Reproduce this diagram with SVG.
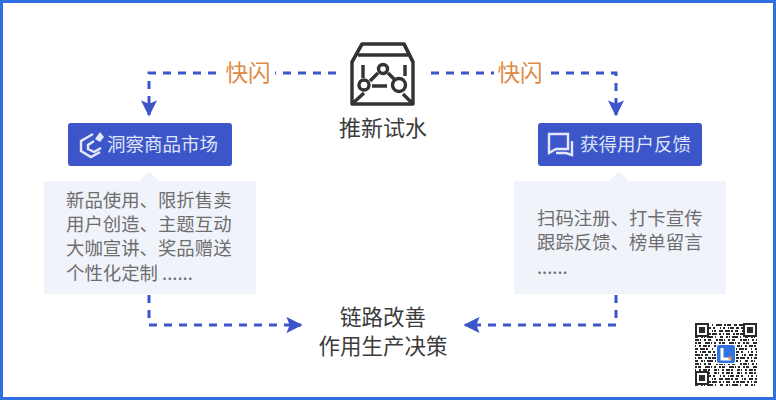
<svg xmlns="http://www.w3.org/2000/svg" width="776" height="400" viewBox="0 0 776 400">
<style>
text{font-family:"Noto Sans CJK SC","Noto Sans",sans-serif}
.t{font-size:22px;fill:#3c3c3c;text-anchor:middle}
.b{font-size:18.4px;fill:#6e6e6e}
.h{font-size:18.5px;fill:#dfe5f8}
.k{font-size:22.5px;fill:#e08a45;text-anchor:middle}
.d{fill:none;stroke:#3c55c8;stroke-width:3;stroke-dasharray:8 7}
.box{fill:#3c55c8}
.card{fill:#f1f3fb}
.ic{fill:none;stroke:#e4e8f8;stroke-width:2.4}
.bx{fill:none;stroke:#333;stroke-width:3.4;stroke-linejoin:round}
.q{stroke:#2a2a2a;stroke-width:2;fill:none}
</style>
<defs>
<marker id="a" viewBox="0 0 10 10" refX="9" refY="5" markerWidth="5.400" markerHeight="5.400" orient="auto"><path d="M0 0L10 5L0 10L2 5Z" fill="#3c55c8"/></marker>
</defs>
<rect x="1.500" y="1.500" width="773" height="397" fill="#fff" stroke="#2f6fe0" stroke-width="3"/>
<g id="connectors">
<path class="d" d="M336 73H149V115" marker-end="url(#a)"/>
<path class="d" d="M431 73H616V115" marker-end="url(#a)"/>
<path class="d" d="M149 295V325H301" marker-end="url(#a)"/>
<path class="d" d="M616 295V325H465" marker-end="url(#a)"/>
</g>
<g id="label-left"><rect x="221" y="60" width="54" height="26" fill="#fff"/><text class="k" x="248" y="81">快闪</text></g>
<g id="label-right"><rect x="494" y="60" width="54" height="26" fill="#fff"/><text class="k" x="520" y="81">快闪</text></g>
<g id="node-top">
<path class="bx" d="M352 62L362 44H404L413 62V104H352Z"/>
<path class="bx" d="M352 62L362 44M413 62L404 44M358 55H408M352 104L364 93M413 104L403 94" stroke-width="2.400"/>
<path class="bx" d="M363 65V78M405 65V76M370 81L378 73M388 73L394 79M372 86H387" stroke-width="2.400"/>
<circle class="bx" cx="364" cy="85" r="5"/><circle class="bx" cx="383" cy="69" r="4.500"/><circle class="bx" cx="399" cy="85" r="6.500"/>
<text class="t" x="383" y="136">推新试水</text>
</g>
<g id="node-left">
<rect class="box" x="68" y="123" width="164" height="43" rx="3"/>
<path class="ic" d="M93 134L81 141V151L91 157L100 152M94 141L88 145V149L94 152L101 148"/>
<path d="M95 139L100 132L104 137L100 142Z" fill="#e4e8f8"/>
<text class="h" x="107" y="151">洞察商品市场</text>
</g>
<g id="card-left">
<path class="card" d="M44 181H139L149 171L159 181H256V294H44Z"/>
<text class="b"><tspan x="66" y="207">新品使用、限折售卖</tspan><tspan x="66" y="231">用户创造、主题互动</tspan><tspan x="66" y="255">大咖宣讲、奖品赠送</tspan><tspan x="66" y="280">个性化定制 ......</tspan></text>
</g>
<g id="node-right">
<rect class="box" x="538" y="123" width="164" height="43" rx="3"/>
<path class="ic" d="M549 134H568V149H556L549 153Z" stroke-width="2.800"/>
<path class="ic" d="M572 141V155L566 153H556"/>
<text class="h" x="580" y="151">获得用户反馈</text>
</g>
<g id="card-right">
<path class="card" d="M514 181H609L619 171L629 181H726V294H514Z"/>
<text class="b"><tspan x="537" y="225">扫码注册、打卡宣传</tspan><tspan x="537" y="249">跟踪反馈、榜单留言</tspan><tspan x="537" y="274">......</tspan></text>
</g>
<g id="node-bottom">
<text class="t" style="font-size:21.5px"><tspan x="383" y="325">链路改善</tspan><tspan x="383" y="354">作用生产决策</tspan></text>
</g>
<g id="qr">
<rect x="693" y="322" width="66" height="65" fill="#fff"/>
<g class="q">
<path stroke-dasharray="3 2 5 1 2 4 1 3 6 2 2 1 4 3" d="M695 325H757M695 349H757"/>
<path stroke-dasharray="2 3 1 1 4 2 3 2 2 5 1 2" d="M695 328H757M695 352H757M695 376H757"/>
<path stroke-dasharray="5 1 2 2 3 4 1 1 2 3 4 2" d="M695 331H757M695 355H757M695 379H757"/>
<path stroke-dasharray="1 2 4 3 2 1 3 1 5 2 2 2" d="M695 334H757M695 358H757M695 382H757"/>
<path stroke-dasharray="3 3 2 1 1 2 6 2 1 4" d="M695 337H757M695 361H757M695 385H757"/>
<path stroke-dasharray="4 1 1 3 2 2 3 5 2 1" d="M695 340H757M695 364H757"/>
<path stroke-dasharray="2 1 3 4 5 1 1 2 2 3" d="M695 343H757M695 367H757"/>
<path stroke-dasharray="1 3 2 2 4 1 2 4 3 1" d="M695 346H757M695 370H757M695 373H757"/>
</g>
<g fill="#fff" stroke="#2a2a2a" stroke-width="2">
<rect x="696" y="324" width="12" height="12"/><rect x="744" y="324" width="12" height="12"/><rect x="696" y="372" width="12" height="12"/>
</g>
<g fill="#2a2a2a"><rect x="699" y="327" width="6" height="6"/><rect x="747" y="327" width="6" height="6"/><rect x="699" y="375" width="6" height="6"/></g>
<rect x="716" y="344" width="20" height="20" fill="#fff"/>
<rect x="717" y="345" width="18" height="18" rx="2" fill="#2f72e0"/>
<path d="M722 348V359H731" fill="none" stroke="#fff" stroke-width="3"/>
<circle cx="730" cy="358" r="1.800" fill="#e9844a"/>
</g>
</svg>
